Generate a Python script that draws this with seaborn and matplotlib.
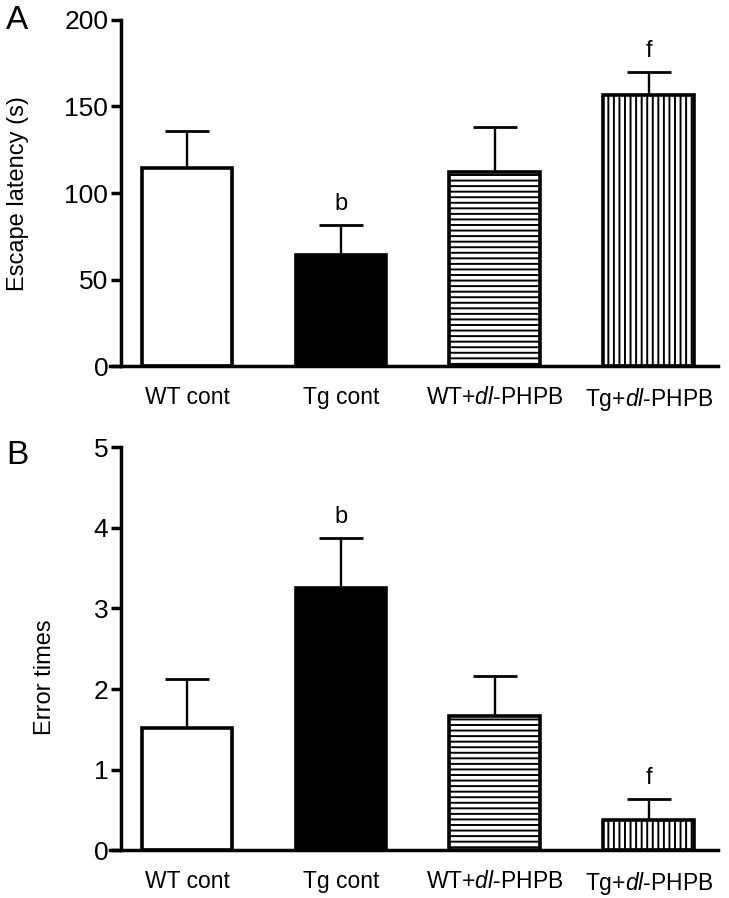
import matplotlib
matplotlib.use("Agg")
import matplotlib.pyplot as plt
import seaborn as sns
import pandas as pd
import numpy as np

groups = ["WT cont", "Tg cont", "WT+dl-PHPB", "Tg+dl-PHPB"]
tick_labels = ["WT cont", "Tg cont", r"WT+$\mathit{dl}$-PHPB", r"Tg+$\mathit{dl}$-PHPB"]
latency_mean = [114.5, 64.5, 112.0, 156.5]
latency_err = [21.5, 17.0, 26.0, 13.5]
error_mean = [1.52, 3.26, 1.67, 0.38]
error_err = [0.61, 0.62, 0.49, 0.26]
latency_marks = ["", "b", "", "f"]
error_marks = ["", "b", "", "f"]

sns.set_theme(style="white")
plt.rcParams['font.family'] = ['Liberation Sans', 'DejaVu Sans']
plt.rcParams['mathtext.fontset'] = 'custom'
plt.rcParams['mathtext.it'] = 'Liberation Sans:italic'
plt.rcParams['mathtext.rm'] = 'Liberation Sans'
plt.rcParams['hatch.linewidth'] = 1.4
plt.rcParams['hatch.color'] = 'black'
plt.rcParams['text.color'] = 'black'
plt.rcParams['axes.labelcolor'] = 'black'
plt.rcParams['xtick.color'] = 'black'
plt.rcParams['ytick.color'] = 'black'

fig = plt.figure(figsize=(7.29, 8.98), dpi=100)
axA = fig.add_axes([0.151, 0.592, 0.834, 0.386])
axB = fig.add_axes([0.151, 0.053, 0.834, 0.449])

faces = ["white", "black", "white", "white"]
hatches = [None, None, "---", "|||"]

def draw(ax, means, errs, marks, ymax, step):
    df = pd.DataFrame({"group": groups, "value": means})
    sns.barplot(data=df, x="group", y="value", ax=ax, errorbar=None,
                width=0.59, color="white", saturation=1)
    for i, p in enumerate(ax.patches):
        p.set_facecolor(faces[i])
        p.set_edgecolor("black")
        p.set_linewidth(2.6)
        if hatches[i]:
            p.set_hatch(hatches[i])
        p.set_zorder(2)
    x = np.arange(len(groups))
    ax.errorbar(x, means, yerr=[np.zeros(len(errs)), errs], fmt="none",
                ecolor="black", elinewidth=1.7, capsize=16, capthick=2.0, zorder=1)
    for i, m in enumerate(marks):
        if m:
            ax.annotate(m, (x[i], means[i] + errs[i]), xytext=(0, 7),
                        textcoords="offset points", ha="center", va="bottom",
                        fontsize=17, color="black")
    ax.set_xlim(-0.5, 3.45)
    ax.set_ylim(0, ymax)
    ax.set_yticks(np.arange(0, ymax + step / 2, step))
    ax.set_xticks(x)
    ax.set_xticklabels(tick_labels)
    ax.set_xlabel("")
    ax.set_ylabel("")
    for s in ["top", "right"]:
        ax.spines[s].set_visible(False)
    ax.spines["left"].set_position(("data", -0.43))
    for s in ["left", "bottom"]:
        ax.spines[s].set_linewidth(2.5)
        ax.spines[s].set_color("black")
    ax.tick_params(axis="y", which="both", left=True, length=7, width=2.5,
                   direction="out", labelsize=19, pad=2, colors="black")
    ax.tick_params(axis="x", bottom=False, labelsize=16.5, pad=8, colors="black")
    return ax

draw(axA, latency_mean, latency_err, latency_marks, 200, 50)
draw(axB, error_mean, error_err, error_marks, 5, 1)

fig.text(0.025, 0.785, "Escape latency (s)", rotation=90, ha="center", va="center", fontsize=17)
fig.text(0.062, 0.246, "Error times", rotation=90, ha="center", va="center", fontsize=17)
fig.text(0.008, 0.977, "A", ha="left", va="center", fontsize=24)
fig.text(0.008, 0.493, "B", ha="left", va="center", fontsize=24)

fig.savefig("out.png", dpi=100, facecolor="white")
